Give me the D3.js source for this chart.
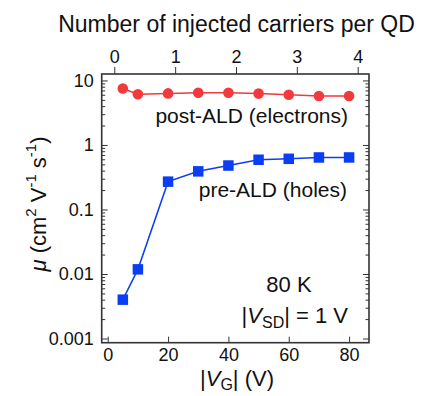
<!DOCTYPE html>
<html>
<head>
<meta charset="utf-8">
<script src="https://cdn.jsdelivr.net/npm/d3@7"></script>
<style>
    body { margin: 0; background: #fff; }
    svg { display: block; font-family: "Liberation Sans", Arial, sans-serif; }
    .axis path, .axis line { stroke: #333; }
    .axis text { fill: #111; font-size: 18px; }
</style>
</head>
<body>
<div id="chart"></div>
<script>
(function(d3) {
    'use strict';

    // gate voltages (V)
    var gateVoltages = [5, 10, 20, 30, 40, 50, 60, 70, 80];
    // mobility, cm^2 V^-1 s^-1
    var postAld = [7.5, 6.1, 6.3, 6.45, 6.45, 6.25, 6.0, 5.75, 5.75];
    var preAld = [0.0040, 0.0118, 0.27, 0.39, 0.48, 0.59, 0.61, 0.64, 0.64];

    var bottomTicks = [0, 20, 40, 60, 80];
    var topTicks = [0, 1, 2, 3, 4];
    var yMajorTicks = [0.001, 0.01, 0.1, 1, 10];
    var yTickLabels = ['0.001', '0.01', '0.1', '1', '10'];

    var settings = {
        width: 423,
        height: 396,
        frame: { left: 101.7, right: 369, top: 74, bottom: 342.7 },
        red: '#f2393b',
        blue: '#0b3ef2'
    };
    var f = settings.frame;

    var svg = d3.select('#chart').append('svg')
        .attr('width', settings.width)
        .attr('height', settings.height);

    var x = d3.scaleLinear().domain([-2.0, 86.6]).range([f.left, f.right]);
    var xTop = d3.scaleLinear().domain([-0.207, 4.186]).range([f.left, f.right]);
    var y = d3.scaleLog().domain([Math.pow(10, -3.065), Math.pow(10, 1.1)]).range([f.bottom, f.top]);

    var minors = [];
    [-3, -2, -1, 0, 1].forEach(function(e) {
        for (var k = 2; k <= 9; k++) {
            var v = k * Math.pow(10, e);
            if (v < y.domain()[1]) minors.push(v);
        }
    });

    function fmtY(d) { return yTickLabels[yMajorTicks.indexOf(d)]; }

    // left axis
    svg.append('g').attr('class', 'axis')
        .attr('transform', 'translate(' + f.left + ',0)')
        .call(d3.axisLeft(y).tickValues(yMajorTicks).tickFormat(fmtY).tickSize(-6).tickPadding(8))
        .call(function(g) { g.select('.domain').remove(); });
    svg.append('g').attr('class', 'axis')
        .attr('transform', 'translate(' + f.left + ',0)')
        .call(d3.axisLeft(y).tickValues(minors).tickFormat('').tickSize(-3.5))
        .call(function(g) { g.select('.domain').remove(); });

    // right axis
    svg.append('g').attr('class', 'axis')
        .attr('transform', 'translate(' + f.right + ',0)')
        .call(d3.axisRight(y).tickValues(yMajorTicks).tickFormat('').tickSize(-6))
        .call(function(g) { g.select('.domain').remove(); });
    svg.append('g').attr('class', 'axis')
        .attr('transform', 'translate(' + f.right + ',0)')
        .call(d3.axisRight(y).tickValues(minors).tickFormat('').tickSize(-3.5))
        .call(function(g) { g.select('.domain').remove(); });

    // bottom axis
    svg.append('g').attr('class', 'axis')
        .attr('transform', 'translate(0,' + f.bottom + ')')
        .call(d3.axisBottom(x).tickValues(bottomTicks).tickSize(-6).tickPadding(6))
        .call(function(g) { g.select('.domain').remove(); });

    // top axis
    svg.append('g').attr('class', 'axis')
        .attr('transform', 'translate(0,' + f.top + ')')
        .call(d3.axisTop(xTop).tickValues(topTicks).tickFormat(d3.format('d')).tickSize(7).tickPadding(4))
        .call(function(g) { g.select('.domain').remove(); });

    // frame
    svg.append('rect')
        .attr('x', f.left).attr('y', f.top)
        .attr('width', f.right - f.left).attr('height', f.bottom - f.top)
        .attr('fill', 'none').attr('stroke', '#333').attr('stroke-width', 1.6);

    var line = d3.line()
        .x(function(d) { return x(d[0]); })
        .y(function(d) { return y(d[1]); });

    var red = gateVoltages.map(function(v, i) { return [v, postAld[i]]; });
    var blue = gateVoltages.map(function(v, i) { return [v, preAld[i]]; });

    svg.append('path').datum(red).attr('d', line)
        .attr('fill', 'none').attr('stroke', settings.red).attr('stroke-width', 1.5);
    svg.selectAll('.dot').data(red).enter().append('circle')
        .attr('class', 'dot')
        .attr('cx', function(d) { return x(d[0]); })
        .attr('cy', function(d) { return y(d[1]); })
        .attr('r', 5.3)
        .attr('fill', settings.red);

    svg.append('path').datum(blue).attr('d', line)
        .attr('fill', 'none').attr('stroke', settings.blue).attr('stroke-width', 1.5);
    var sq = 10.5;
    svg.selectAll('.sq').data(blue).enter().append('rect')
        .attr('class', 'sq')
        .attr('x', function(d) { return x(d[0]) - sq / 2; })
        .attr('y', function(d) { return y(d[1]) - sq / 2; })
        .attr('width', sq).attr('height', sq)
        .attr('fill', settings.blue);

    // texts
    function label(tx, ty, anchor, size) {
        return svg.append('text')
            .attr('x', tx).attr('y', ty)
            .attr('text-anchor', anchor)
            .attr('font-size', size)
            .attr('fill', '#111');
    }

    label(236.5, 32, 'middle', 23).text('Number of injected carriers per QD');
    label(348, 123, 'end', 21).text('post-ALD (electrons)');
    label(347, 197, 'end', 21).text('pre-ALD (holes)');
    label(289, 292, 'middle', 22).text('80 K');

    var vsd = label(348, 323, 'end', 22);
    vsd.append('tspan').text('|');
    vsd.append('tspan').attr('font-style', 'italic').text('V');
    vsd.append('tspan').attr('font-size', 16).attr('dy', 5).text('SD');
    vsd.append('tspan').attr('dy', -5).text('| = 1 V');

    var xl = label(237, 386, 'middle', 22);
    xl.append('tspan').text('|');
    xl.append('tspan').attr('font-style', 'italic').text('V');
    xl.append('tspan').attr('font-size', 16).attr('dy', 4).text('G');
    xl.append('tspan').attr('dy', -4).text('| (V)');

    var yl = svg.append('text')
        .attr('transform', 'translate(46,204) rotate(-90)')
        .attr('text-anchor', 'middle')
        .attr('font-size', 22)
        .attr('fill', '#111');
    yl.append('tspan').attr('font-style', 'italic').text('\u03bc');
    yl.append('tspan').text(' (cm');
    yl.append('tspan').attr('font-size', 15).attr('dy', -10).text('2');
    yl.append('tspan').attr('dy', 10).text(' V');
    yl.append('tspan').attr('font-size', 15).attr('dy', -10).text('-1');
    yl.append('tspan').attr('dy', 10).text(' s');
    yl.append('tspan').attr('font-size', 15).attr('dy', -10).text('-1');
    yl.append('tspan').attr('dy', 10).text(')');

})(window.d3);
</script>
</body>
</html>
